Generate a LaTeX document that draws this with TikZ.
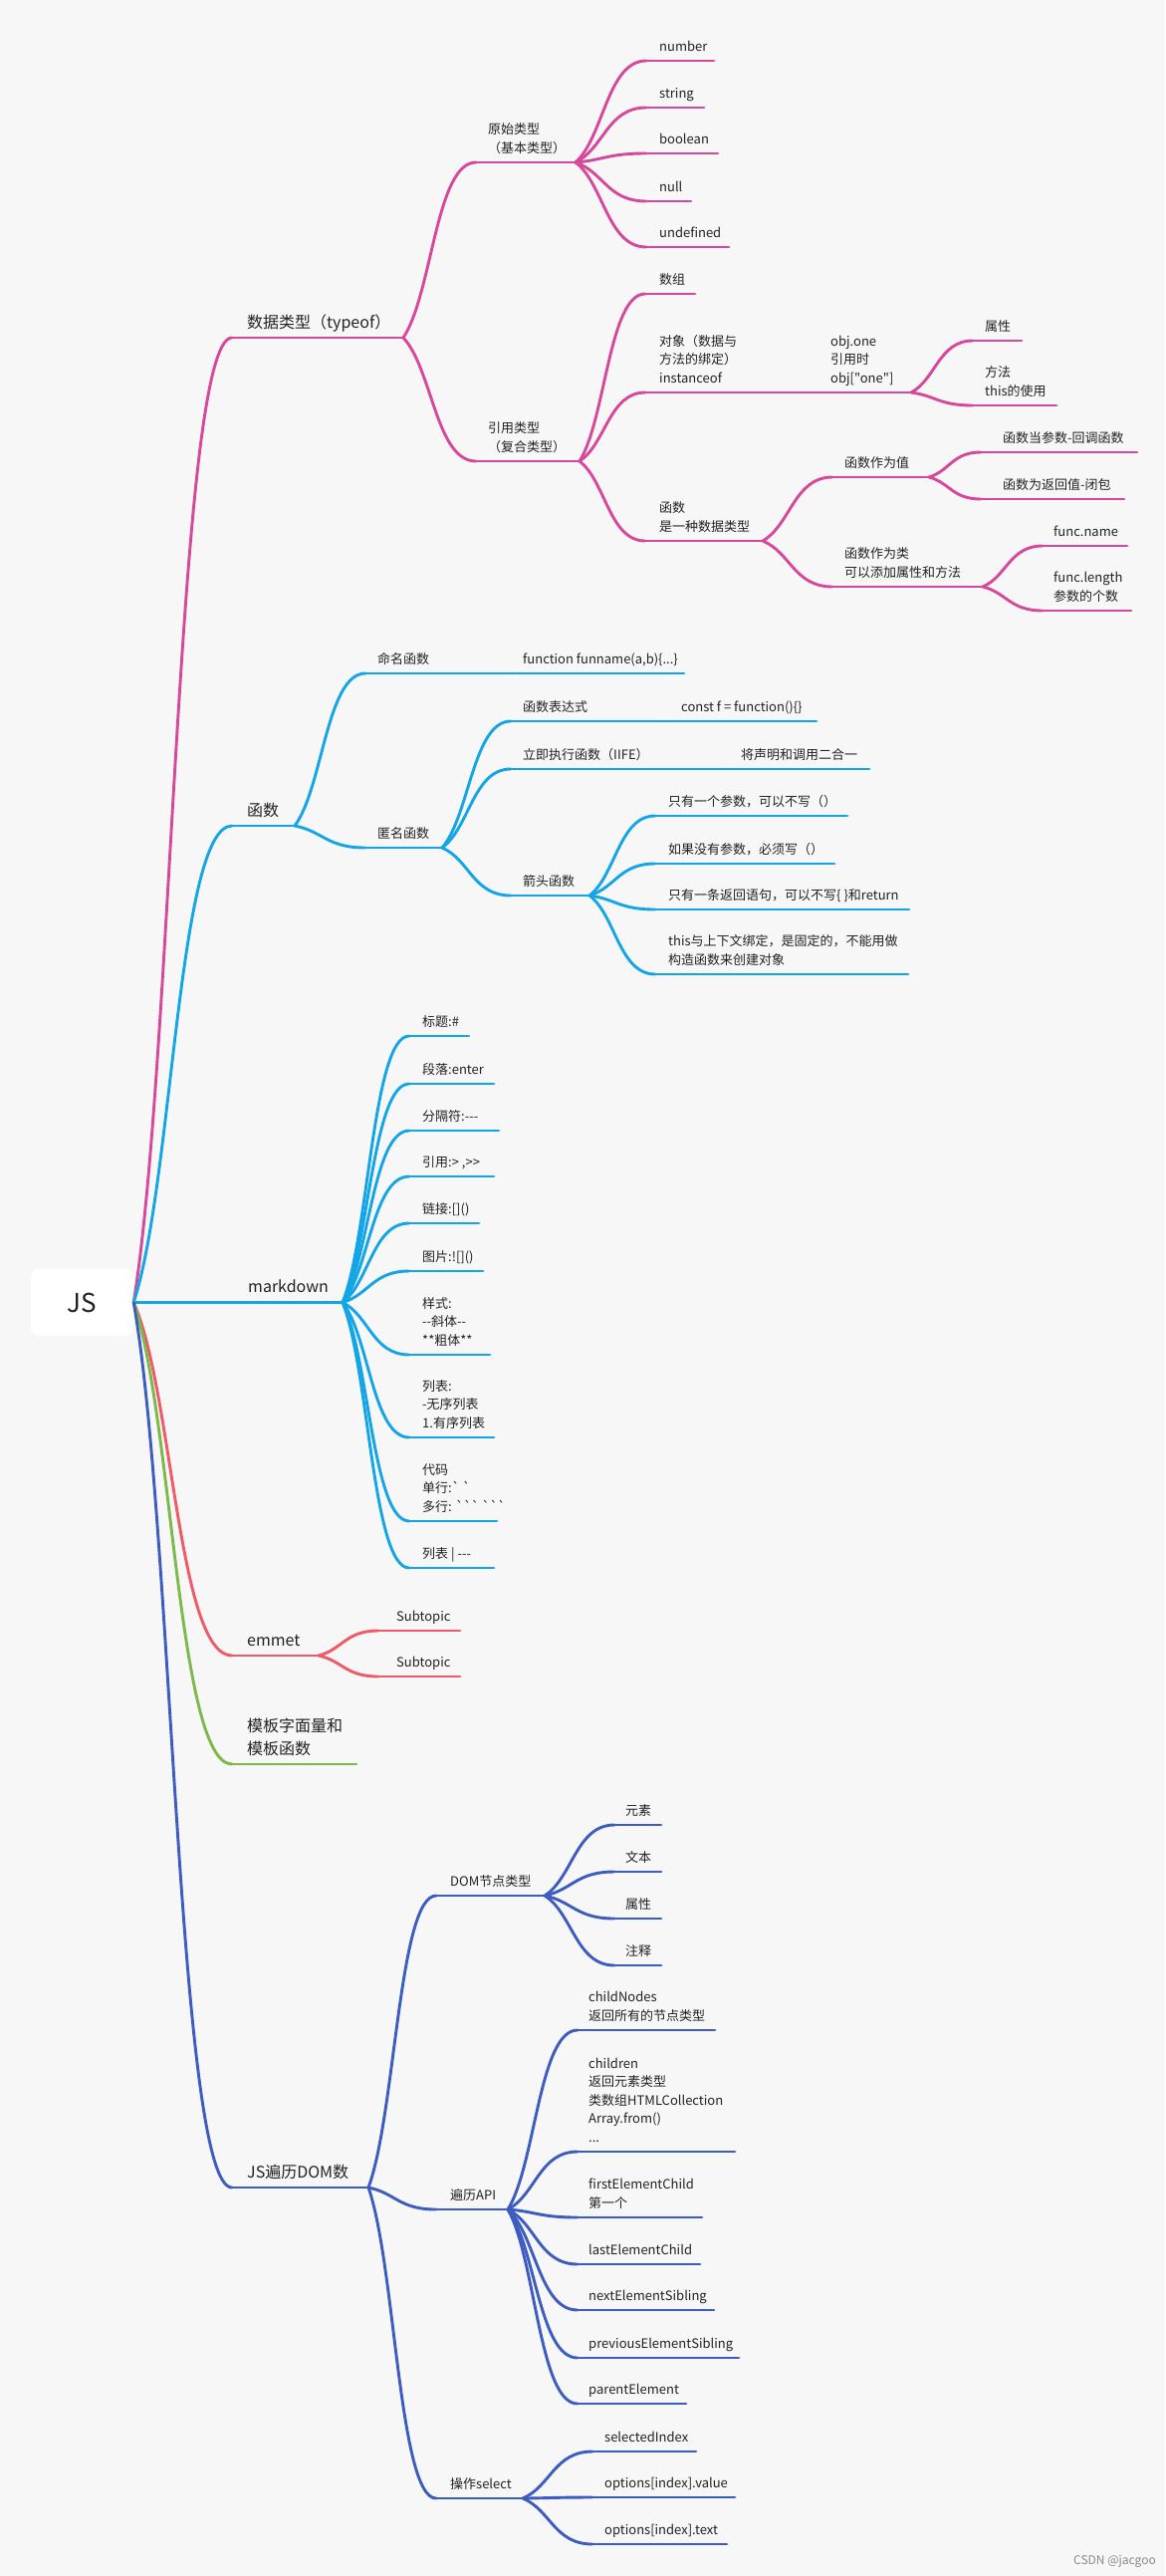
\documentclass[tikz,border=0pt]{standalone}
\usepackage{fontspec}
\newfontfamily\cjk{Noto Sans CJK SC}
\usetikzlibrary{calc}
\definecolor{cpink}{HTML}{D6489B}
\definecolor{cblue}{HTML}{14A5E6}
\definecolor{cred}{HTML}{EE5A67}
\definecolor{cgreen}{HTML}{7DB84A}
\definecolor{cdblue}{HTML}{3C5CBF}
\definecolor{bg}{HTML}{F7F7F7}
\definecolor{txt}{HTML}{222222}
\definecolor{wmgray}{HTML}{8A8A8A}
\tikzset{
  br/.style={draw=#1, line width=2.9pt, line cap=round},
  lbl/.style={inner sep=0pt, text=txt, font=\cjk\fontsize{13}{18.5}\selectfont},
  mlbl/.style={inner sep=0pt, text=txt, font=\cjk\fontsize{16}{23}\selectfont},
  root/.style={fill=white, rounded corners=8pt, minimum width=103pt, minimum height=67pt, inner sep=0pt, text=txt, font=\cjk\fontsize{26}{30}\selectfont}
}
% #1 style, #2 name, #3 colour, #4 line start x, #5 line end x, #6 line y, #7 text x, #8 text
\newcommand\topic[8][lbl]{%
  \coordinate (#2-s) at (#4,#6);
  \coordinate (#2-e) at (#5,#6);
  \node[#1, anchor=base west] (#2) at (#7,#6-10) {\begin{tabular}[b]{@{}l@{}}#8\end{tabular}};
  \draw[br=#3] (#2-s) -- (#2-e);
}
\newcommand\link[3]{%
  \draw[br=#1] let \p1=(#2), \p2=(#3) in (\p1) .. controls ({\x1+0.4*(\x2-\x1)},{\y1+0.25*(\y2-\y1)}) and ({\x1+0.45*(\x2-\x1)},\y2) .. (\p2);
}
\begin{document}
\begin{tikzpicture}[x=1pt,y=-1pt]
\fill[bg] (0,0) rectangle (1170,2586);
\useasboundingbox (0,0) rectangle (1170,2586);
\node[root] (js) at (82.5,1307.5) {JS};

% ---------- data types
\topic[mlbl]{dt}{cpink}{233}{405}{339}{248}{数据类型（typeof）}
\topic{yslx}{cpink}{478}{578}{163}{490}{原始类型\\（基本类型）}
\topic{num}{cpink}{649}{717}{61}{662}{number}
\topic{str}{cpink}{649}{707}{108}{662}{string}
\topic{boo}{cpink}{649}{721}{154}{662}{boolean}
\topic{nul}{cpink}{649}{694}{202}{662}{null}
\topic{und}{cpink}{649}{732}{248}{662}{undefined}
\topic{yylx}{cpink}{478}{582}{463}{490}{引用类型\\（复合类型）}
\topic{arr}{cpink}{648}{698}{295}{662}{数组}
\topic{obj}{cpink}{648}{820}{394}{662}{对象（数据与\\方法的绑定）\\instanceof}
\topic{objone}{cpink}{820}{915}{394}{834}{obj.one\\引用时\\obj["one"]}
\topic{prop}{cpink}{977}{1026}{342}{989}{属性}
\topic{meth}{cpink}{977}{1061}{407}{989}{方法\\this的使用}
\topic{fdt}{cpink}{648}{766}{543}{662}{函数\\是一种数据类型}
\topic{fval}{cpink}{836}{933}{479}{848}{函数作为值}
\topic{cb}{cpink}{985}{1142}{454}{1007}{函数当参数-回调函数}
\topic{clo}{cpink}{985}{1129}{501}{1007}{函数为返回值-闭包}
\topic{fcls}{cpink}{836}{987}{589}{848}{函数作为类\\可以添加属性和方法}
\topic{fname}{cpink}{1047}{1132}{548}{1058}{func.name}
\topic{flen}{cpink}{1047}{1136}{613}{1058}{func.length\\参数的个数}

\link{cpink}{js.east}{dt-s}
\link{cpink}{dt-e}{yslx-s}
\link{cpink}{dt-e}{yylx-s}
\link{cpink}{yslx-e}{num-s}
\link{cpink}{yslx-e}{str-s}
\link{cpink}{yslx-e}{boo-s}
\link{cpink}{yslx-e}{nul-s}
\link{cpink}{yslx-e}{und-s}
\link{cpink}{yylx-e}{arr-s}
\link{cpink}{yylx-e}{obj-s}
\link{cpink}{yylx-e}{fdt-s}
\link{cpink}{obj-e}{objone-s}
\link{cpink}{objone-e}{prop-s}
\link{cpink}{objone-e}{meth-s}
\link{cpink}{fdt-e}{fval-s}
\link{cpink}{fdt-e}{fcls-s}
\link{cpink}{fval-e}{cb-s}
\link{cpink}{fval-e}{clo-s}
\link{cpink}{fcls-e}{fname-s}
\link{cpink}{fcls-e}{flen-s}

% ---------- functions
\topic[mlbl]{fn}{cblue}{233}{296}{829}{248}{函数}
\topic{named}{cblue}{367}{515}{676}{379}{命名函数}
\topic{funa}{cblue}{515}{687}{676}{525}{function funname(a,b)\{...\}}
\topic{anon}{cblue}{367}{444}{851}{379}{匿名函数}
\topic{fexp}{cblue}{513}{670}{724}{525}{函数表达式}
\topic{fexpb}{cblue}{670}{820}{724}{684}{const f = function()\{\}}
\topic{iife}{cblue}{513}{730}{772}{525}{立即执行函数（IIFE）}
\topic{iifeb}{cblue}{730}{873}{772}{744}{将声明和调用二合一}
\topic{arrow}{cblue}{513}{592}{899}{525}{箭头函数}
\topic{ara}{cblue}{658}{851}{819}{671}{只有一个参数，可以不写（）}
\topic{arb}{cblue}{658}{838}{867}{671}{如果没有参数，必须写（）}
\topic{arc}{cblue}{658}{913}{913}{671}{只有一条返回语句，可以不写\{ \}和return}
\topic{ard}{cblue}{658}{912}{978}{671}{this与上下文绑定，是固定的，不能用做\\构造函数来创建对象}

\link{cblue}{js.east}{fn-s}
\link{cblue}{fn-e}{named-s}
\link{cblue}{fn-e}{anon-s}
\link{cblue}{named-e}{funa-s}
\link{cblue}{anon-e}{fexp-s}
\link{cblue}{anon-e}{iife-s}
\link{cblue}{anon-e}{arrow-s}
\link{cblue}{fexp-e}{fexpb-s}
\link{cblue}{iife-e}{iifeb-s}
\link{cblue}{arrow-e}{ara-s}
\link{cblue}{arrow-e}{arb-s}
\link{cblue}{arrow-e}{arc-s}
\link{cblue}{arrow-e}{ard-s}

% ---------- markdown
\topic[mlbl]{md}{cblue}{140}{344}{1307.5}{249}{markdown}
\topic{ma}{cblue}{411}{471}{1040}{424}{标题:\#}
\topic{mb}{cblue}{411}{496}{1088}{424}{段落:enter}
\topic{mc}{cblue}{411}{501}{1135}{424}{分隔符:---}
\topic{mdd}{cblue}{411}{496}{1181}{424}{引用:> ,>>}
\topic{me}{cblue}{411}{481}{1228}{424}{链接:[]()}
\topic{mf}{cblue}{411}{485}{1276}{424}{图片:![]()}
\topic{mg}{cblue}{411}{492}{1360}{424}{样式:\\--斜体--\\{}**粗体**}
\topic{mh}{cblue}{411}{496}{1443}{424}{列表:\\-无序列表\\1.有序列表}
\topic{mi}{cblue}{411}{499}{1527}{424}{代码\\单行:` `\\多行: ``` ```}
\topic{mj}{cblue}{411}{496}{1574}{424}{列表 | ---}

\link{cblue}{js.east}{md-s}
\link{cblue}{md-e}{ma-s}
\link{cblue}{md-e}{mb-s}
\link{cblue}{md-e}{mc-s}
\link{cblue}{md-e}{mdd-s}
\link{cblue}{md-e}{me-s}
\link{cblue}{md-e}{mf-s}
\link{cblue}{md-e}{mg-s}
\link{cblue}{md-e}{mh-s}
\link{cblue}{md-e}{mi-s}
\link{cblue}{md-e}{mj-s}

% ---------- emmet
\topic[mlbl]{em}{cred}{233}{320}{1662}{248}{emmet}
\topic{sa}{cred}{380}{462}{1637}{398}{Subtopic}
\topic{sb}{cred}{380}{462}{1683}{398}{Subtopic}
\link{cred}{js.east}{em-s}
\link{cred}{em-e}{sa-s}
\link{cred}{em-e}{sb-s}

% ---------- template
\topic[mlbl]{tpl}{cgreen}{233}{358}{1771}{248}{模板字面量和\\模板函数}
\link{cgreen}{js.east}{tpl-s}

% ---------- DOM
\topic[mlbl]{dom}{cdblue}{233}{370}{2196}{248}{JS遍历DOM数}
\topic{dnt}{cdblue}{438}{547}{1903}{452}{DOM节点类型}
\topic{da}{cdblue}{617}{664}{1832}{628}{元素}
\topic{db}{cdblue}{617}{664}{1879}{628}{文本}
\topic{dc}{cdblue}{617}{664}{1926}{628}{属性}
\topic{dd}{cdblue}{617}{664}{1973}{628}{注释}
\topic{api}{cdblue}{438}{510}{2218}{452}{遍历API}
\topic{aa}{cdblue}{580}{718}{2038}{591}{childNodes\\返回所有的节点类型}
\topic{ab}{cdblue}{580}{738}{2160}{591}{children\\返回元素类型\\类数组HTMLCollection\\Array.from()\\...}
\topic{ac}{cdblue}{580}{705}{2226}{591}{firstElementChild\\第一个}
\topic{ad}{cdblue}{580}{703}{2273}{591}{lastElementChild}
\topic{ae}{cdblue}{580}{717}{2319}{591}{nextElementSibling}
\topic{af}{cdblue}{580}{742}{2367}{591}{previousElementSibling}
\topic{ag}{cdblue}{580}{689}{2413}{591}{parentElement}
\topic{sel}{cdblue}{438}{525}{2508}{452}{操作select}
\topic{oa}{cdblue}{595}{699}{2461}{607}{selectedIndex}
\topic{ob}{cdblue}{595}{738}{2507}{607}{options[index].value}
\topic{oc}{cdblue}{595}{730}{2554}{607}{options[index].text}

\link{cdblue}{js.east}{dom-s}
\link{cdblue}{dom-e}{dnt-s}
\link{cdblue}{dom-e}{api-s}
\link{cdblue}{dom-e}{sel-s}
\link{cdblue}{dnt-e}{da-s}
\link{cdblue}{dnt-e}{db-s}
\link{cdblue}{dnt-e}{dc-s}
\link{cdblue}{dnt-e}{dd-s}
\link{cdblue}{api-e}{aa-s}
\link{cdblue}{api-e}{ab-s}
\link{cdblue}{api-e}{ac-s}
\link{cdblue}{api-e}{ad-s}
\link{cdblue}{api-e}{ae-s}
\link{cdblue}{api-e}{af-s}
\link{cdblue}{api-e}{ag-s}
\link{cdblue}{sel-e}{oa-s}
\link{cdblue}{sel-e}{ob-s}
\link{cdblue}{sel-e}{oc-s}

\node[anchor=base west, inner sep=0pt, text=wmgray, font=\cjk\fontsize{12}{14}\selectfont] (wm) at (1078,2574) {CSDN @jacgoo};
\end{tikzpicture}
\end{document}
